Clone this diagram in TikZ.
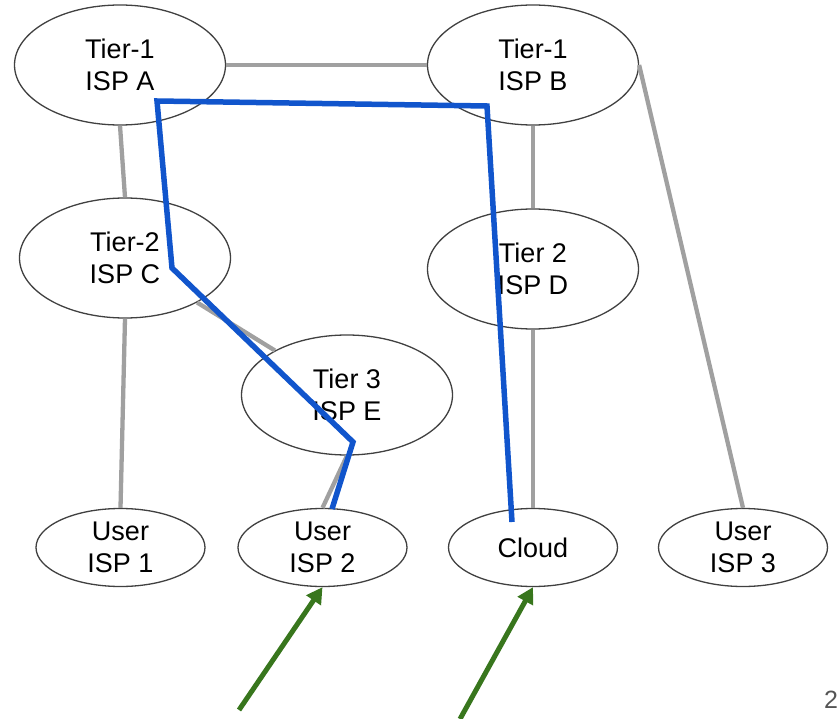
\documentclass[tikz,border=0pt]{standalone}
\usepackage{fontspec}
\setmainfont{Liberation Sans}
\usetikzlibrary{shapes.geometric,arrows.meta}
\definecolor{linkgray}{HTML}{A0A0A0}
\definecolor{edgedark}{HTML}{404040}
\definecolor{pathblue}{HTML}{1155CC}
\definecolor{arrowgreen}{HTML}{38761D}
\definecolor{numgray}{HTML}{555555}
\tikzset{
  isp/.style={ellipse, draw=edgedark, line width=1.3pt, inner sep=0pt,
    minimum width=211pt, minimum height=120pt, align=center,
    font=\fontsize{27}{32}\selectfont},
  userisp/.style={isp, minimum width=169pt, minimum height=78pt},
  link/.style={draw=linkgray, line width=4.3pt},
  route/.style={draw=pathblue, line width=5.5pt, line join=miter},
  pointer/.style={draw=arrowgreen, line width=5pt,
    -{Triangle[length=16pt,width=17pt]}, shorten >=0pt}
}
\begin{document}
\begin{tikzpicture}[x=1pt,y=-1pt]
\useasboundingbox (0,0) rectangle (838,719);

% ISPs
\node[isp] (A) at (120,65) {Tier-1\\ISP A};
\node[isp] (B) at (533,65) {Tier-1\\ISP B};
\node[isp] (C) at (125,258) {Tier-2\\ISP C};
\node[isp] (D) at (533,269) {Tier 2\\ISP D};
\node[isp] (E) at (347,395) {Tier 3\\ISP E};
\node[userisp] (U1) at (120.5,547.5) {User\\ISP 1};
\node[userisp] (U2) at (322.5,547.5) {User\\ISP 2};
\node[userisp] (CL) at (533,547.5) {Cloud};
\node[userisp] (U3) at (743,547.5) {User\\ISP 3};

% links between providers
\draw[link] (A) -- (B);
\draw[link] (A.south) -- (C.north);
\draw[link] (C) -- (E);
\draw[link] (C.south) -- (U1.north);
\draw[link] (E.south) -- (U2.north);
\draw[link] (B.south) -- (D.north);
\draw[link] (D.south) -- (CL.north);
\draw[link] (B.east) -- (U3.north);

% route from the cloud to user ISP 2
\coordinate (r0) at (512,522);
\coordinate (r1) at (487,106);
\coordinate (r2) at (157,101);
\coordinate (r3) at (172,268);
\coordinate (r4) at (353,442);
\coordinate (r5) at (332,509);
\draw[route] (r0) -- (r1) -- (r2) -- (r3) -- (r4) -- (r5);

% pointers
\coordinate (g1) at (239,710);
\coordinate (g2) at (460,719);
\draw[pointer] (g1) -- (U2.south);
\draw[pointer] (g2) -- (CL.south);

% page number
\node[anchor=base west, inner sep=0pt, text=numgray,
  font=\fontsize{25}{30}\selectfont] (pg) at (824,708) {2};
\end{tikzpicture}
\end{document}
